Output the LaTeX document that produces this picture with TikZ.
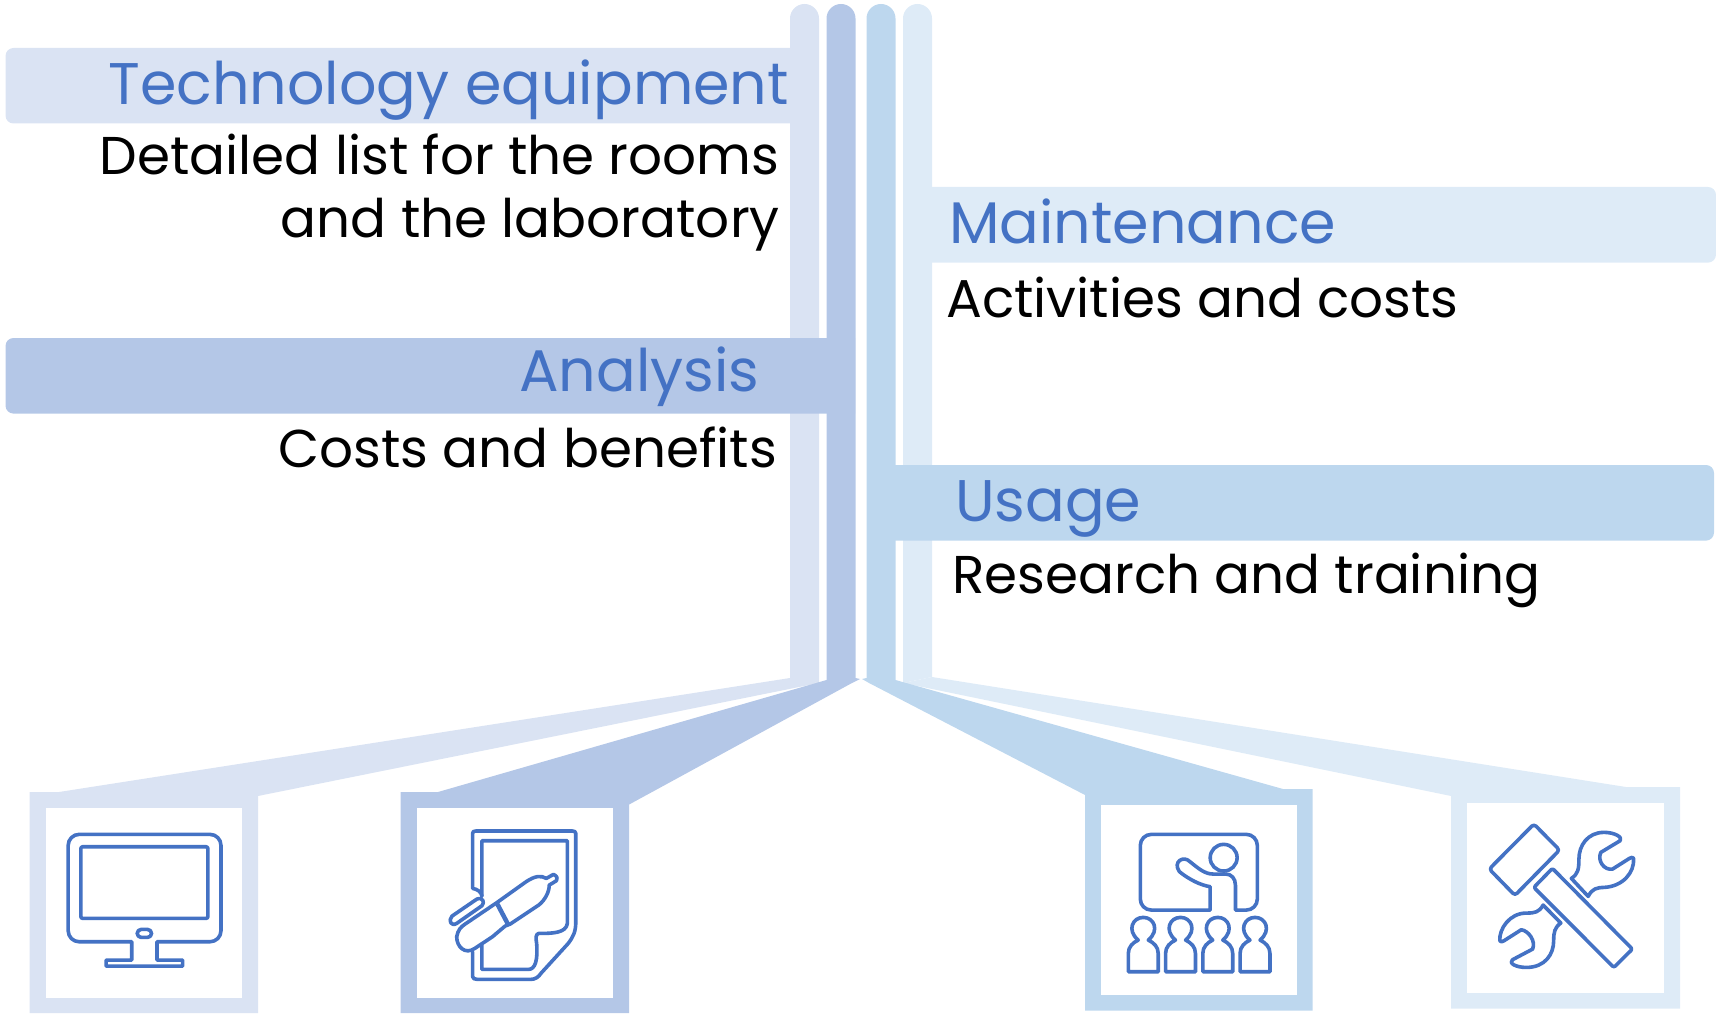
\documentclass[tikz,border=0pt]{standalone}
\usepackage{fontspec}
\setmainfont{Poppins}
\definecolor{cA}{HTML}{DAE3F3}
\definecolor{cB}{HTML}{B4C7E7}
\definecolor{cC}{HTML}{BDD7EE}
\definecolor{cD}{HTML}{DEEBF7}
\definecolor{ink}{HTML}{4472C4}
\tikzset{
  head/.style={inner sep=0pt,text=ink,font=\fontsize{58.7}{62}\selectfont},
  body/.style={inner sep=0pt,text=black,font=\fontsize{53.2}{58}\selectfont},
  icon/.style={draw=ink,line width=3.6pt,line join=round,line cap=round,fill=none},
  zl/.style={shift={(0,770)},xscale=0.4209,yscale=0.3335},
  zr/.style={shift={(1059.5,770)},xscale=0.4209,yscale=0.3335},
  zt/.style={shift={(1057,769)},xscale=0.4209,yscale=0.3335}
}
\begin{document}
\begin{tikzpicture}[x=1pt,y=-1pt]
\useasboundingbox (0,0) rectangle (1716,1016);
% technology equipment
\fill[cA] (790,680) -- (790,18.5) arc[start angle=180,end angle=360,radius=14.5] -- (819,683) -- cycle;
\fill[cA] (790,48) [rounded corners=8] -- (5.5,48) -- (5.5,123.5) [sharp corners] -- (790,123.5) -- cycle;
\fill[cA] (790,678) -- (59,792) -- (29.5,792) -- (29.5,1013) -- (258,1013) -- (258,796) -- (819,683) -- cycle;
\fill[white] (45.5,808) rectangle (242,998);
% analysis
\fill[cB] (826.5,680) -- (826.5,18.5) arc[start angle=180,end angle=360,radius=14.5] -- (855.5,680) -- cycle;
\fill[cB] (855,338) [rounded corners=8] -- (5.5,338) -- (5.5,413.6) [sharp corners] -- (855,413.6) -- cycle;
\fill[cB] (826.5,680) -- (438,792) -- (400.5,792) -- (400.5,1013) -- (629,1013) -- (629,804.6) -- (852,683) -- (860,679) -- (855.5,678) -- cycle;
\fill[white] (416.5,808) rectangle (613,998);
% maintenance
\fill[cD] (903,683) -- (903,18.5) arc[start angle=180,end angle=360,radius=14.5] -- (932,677) -- cycle;
\fill[cD] (932,187) [rounded corners=8] -- (1716,187) -- (1716,262.6) [sharp corners] -- (932,262.6) -- cycle;
\fill[cD] (932,677) -- (1626,787) -- (1680,787) -- (1680,1008.5) -- (1451,1008.5) -- (1451,796) -- (903,683) -- cycle;
\fill[white] (1467,803) rectangle (1663.5,992.5);
% usage
\fill[cC] (866.5,680) -- (866.5,18.5) arc[start angle=180,end angle=360,radius=14.5] -- (895.5,680) -- cycle;
\fill[cC] (895,465) [rounded corners=8] -- (1714,465) -- (1714,540.6) [sharp corners] -- (895,540.6) -- cycle;
\fill[cC] (895.5,680) -- (1283,789) -- (1312.5,789) -- (1312.5,1010.5) -- (1085,1010.5) -- (1085,795) -- (869,683) -- (862,679) -- (866.5,678) -- cycle;
\fill[white] (1101,805) rectangle (1297,995);
% texts
\node[head,anchor=base east] (t1) at (789,104.5) {Technology equipment};
\node[body,anchor=base east] (b1a) at (779.5,174.5) {Detailed list for the rooms};
\node[body,anchor=base east] (b1b) at (780,238) {and the laboratory};
\node[head,anchor=base east] (t2) at (759.5,391) {Analysis};
\node[body,anchor=base east] (b2) at (777,467) {Costs and benefits};
\node[head,anchor=base west] (t3) at (949,244) {Maintenance};
\node[body,anchor=base west] (b3) at (946,317) {Activities and costs};
\node[head,anchor=base west] (t4) at (955,521) {Usage};
\node[body,anchor=base west] (b4) at (952,593.5) {Research and training};
% monitor
\begin{scope}[zl]
\draw[icon] (313,515) [rounded corners=11] -- (162,515) -- (162,193) -- (525,193) -- (525,515) [sharp corners] -- (373,515) -- (373,570) -- (434,570) -- (434,588) -- (252,588) -- (252,570) -- (313,570) -- cycle;
\draw[icon,rounded corners=2] (192,230) rectangle (494,445);
\draw[icon,rounded corners=4] (326,478) rectangle (360,502);
\end{scope}
% document and pen
\begin{scope}[zl]
\draw[icon] (1123,545) -- (1123,620) .. controls (1123,625) and (1128,628) .. (1135,628) -- (1260,628) .. controls (1272,628) and (1280,620) .. (1285,610) -- (1350,520) .. controls (1362,500) and (1368,485) .. (1368,455) -- (1368,190) .. controls (1368,185) and (1365,183) .. (1360,183) -- (1130,183) .. controls (1125,183) and (1123,185) .. (1123,190) -- (1123,355) .. controls (1135,358) and (1143,365) .. (1145,378);
\draw[icon] (1145,378) -- (1145,212) -- (1348,212) -- (1348,460) .. controls (1345,490) and (1310,490) .. (1280,490) .. controls (1272,492) and (1273,505) .. (1275,520) .. controls (1278,570) and (1272,598) .. (1255,598) -- (1145,598) -- (1145,525);
\draw[icon] (1180,398) -- (1250,335) .. controls (1270,318) and (1285,315) .. (1298,325) -- (1315,313) .. controls (1325,318) and (1325,328) .. (1322,332) -- (1305,345) .. controls (1305,365) and (1295,390) .. (1280,405) -- (1212,462) -- (1200,468) -- (1170,500) -- (1128,535) .. controls (1105,555) and (1085,530) .. (1085,500) .. controls (1088,480) and (1095,470) .. (1105,462) -- cycle;
\draw[icon,line width=4.5pt,line cap=butt] (1180,398) -- (1208,465);
\draw[icon] (1074,438) -- (1133,387) .. controls (1148,380) and (1152,398) .. (1145,407) -- (1085,460) .. controls (1072,470) and (1064,452) .. (1074,438) -- cycle;
\end{scope}
% teacher
\begin{scope}[zr]
\draw[icon] (358,350) -- (358,420) [rounded corners=11] -- (192,420) -- (192,193) -- (470,193) -- (470,420) [sharp corners] -- (418,420) -- (418,345) .. controls (418,325) and (408,312) .. (395,312) -- (365,312) .. controls (345,312) and (330,295) .. (310,275) .. controls (295,255) and (268,275) .. (285,305) .. controls (310,330) and (335,345) .. (358,350);
\draw[icon] (390,263) ellipse [x radius=32,y radius=40];
\foreach \c in {199,287.5,376,464.5}
\draw[icon] ({\c-35.5},605) -- ({\c-35.5},550) .. controls ({\c-35.5},530) and ({\c-25},518) .. ({\c-12},510) .. controls ({\c-40},480) and ({\c-25},442) .. (\c,442) .. controls ({\c+25},442) and ({\c+40},480) .. ({\c+12},510) .. controls ({\c+25},518) and ({\c+35.5},530) .. ({\c+35.5},550) -- ({\c+35.5},605) -- cycle;
\end{scope}
% tools
\begin{scope}[zt]
\draw[icon,rounded corners=3] (1133,165) -- (1194,243) -- (1088,379) -- (1027,300) -- cycle;
\draw[icon,rounded corners=2] (1177,298) -- (1367,540) -- (1323,595) -- (1133,355) -- cycle;
\draw[icon] (1222,328) -- (1262,382) .. controls (1272,358) and (1282,356) .. (1300,355) .. controls (1345,352) and (1372,310) .. (1370,268) .. controls (1368,264) and (1365,264) .. (1360,268) -- (1320,300) .. controls (1300,305) and (1283,275) .. (1292,250) -- (1338,215) .. controls (1345,205) and (1325,190) .. (1300,190) .. controls (1260,190) and (1240,230) .. (1240,270) .. controls (1240,300) and (1238,315) .. (1222,328) -- cycle;
\draw[icon] (1197,462) -- (1155,408) .. controls (1145,430) and (1135,432) .. (1115,432) .. controls (1075,432) and (1050,480) .. (1052,515) .. controls (1054,520) and (1058,518) .. (1062,515) -- (1103,482) .. controls (1120,485) and (1138,515) .. (1130,540) -- (1082,572) .. controls (1072,582) and (1090,595) .. (1115,595) .. controls (1160,595) and (1180,555) .. (1180,515) .. controls (1180,490) and (1182,475) .. (1197,462) -- cycle;
\end{scope}
\end{tikzpicture}
\end{document}
